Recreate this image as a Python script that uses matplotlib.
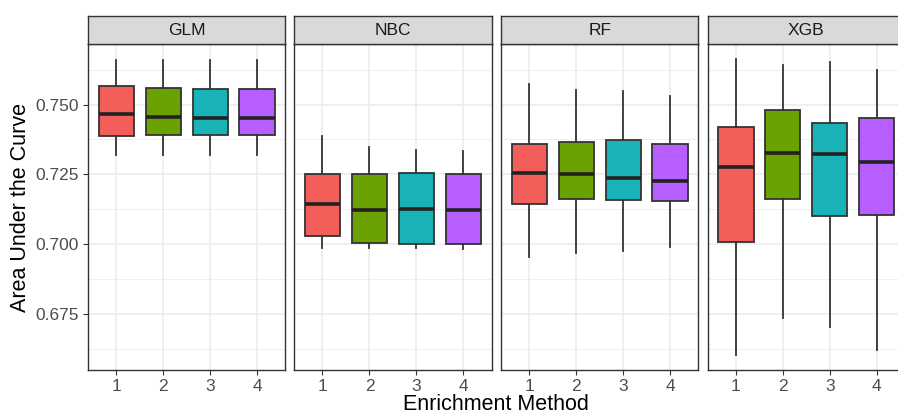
import matplotlib.pyplot as plt
import numpy as np

plt.rcParams['font.family'] = ['Liberation Sans', 'DejaVu Sans']

# data (AUC box stats per model and enrichment method)
models = ['GLM', 'NBC', 'RF', 'XGB']
methods = ['1', '2', '3', '4']
colors = ['#F35E5A', '#6BA100', '#19B2B7', '#B65EFF']

whislo = {'GLM': [0.7318, 0.7318, 0.7318, 0.7318],
          'NBC': [0.6987, 0.6987, 0.6985, 0.6981],
          'RF':  [0.6954, 0.6970, 0.6977, 0.6989],
          'XGB': [0.6602, 0.6737, 0.6703, 0.6620]}
q1 = {'GLM': [0.7388, 0.7390, 0.7391, 0.7391],
      'NBC': [0.7028, 0.7005, 0.6999, 0.7000],
      'RF':  [0.7143, 0.7160, 0.7159, 0.7153],
      'XGB': [0.7009, 0.7163, 0.7099, 0.7103]}
med = {'GLM': [0.7465, 0.7455, 0.7453, 0.7452],
       'NBC': [0.7142, 0.7124, 0.7127, 0.7124],
       'RF':  [0.7256, 0.7253, 0.7238, 0.7226],
       'XGB': [0.7276, 0.7325, 0.7324, 0.7294]}
q3 = {'GLM': [0.7567, 0.7558, 0.7557, 0.7557],
      'NBC': [0.7250, 0.7251, 0.7256, 0.7252],
      'RF':  [0.7358, 0.7366, 0.7372, 0.7360],
      'XGB': [0.7420, 0.7482, 0.7433, 0.7452]}
whishi = {'GLM': [0.7658, 0.7658, 0.7658, 0.7658],
          'NBC': [0.7389, 0.7347, 0.7337, 0.7335],
          'RF':  [0.7574, 0.7551, 0.7547, 0.7532],
          'XGB': [0.7662, 0.7641, 0.7651, 0.7624]}

W, H = 898, 416
fig = plt.figure(figsize=(W / 100, H / 100), dpi=100)

panel_x = [88, 294.3, 501, 707.7]
panel_w = 197.3
top, bot = 44.3, 370
strip_top = 15.7

ymin, ymax = 0.6549, 0.7716
edge = '#333333'

for k, m in enumerate(models):
    x0 = panel_x[k]
    ax = fig.add_axes([x0 / W, 1 - bot / H, panel_w / W, (bot - top) / H])
    stats = []
    for i in range(4):
        stats.append({'whislo': whislo[m][i], 'q1': q1[m][i], 'med': med[m][i],
                      'q3': q3[m][i], 'whishi': whishi[m][i], 'fliers': []})
    bp = ax.bxp(stats, positions=np.arange(1, 5), widths=0.75, patch_artist=True,
                showcaps=False,
                boxprops=dict(edgecolor=edge, linewidth=1.3),
                whiskerprops=dict(color=edge, linewidth=1.3),
                medianprops=dict(color='#222222', linewidth=2.6, solid_capstyle='butt'))
    for patch, c in zip(bp['boxes'], colors):
        patch.set_facecolor(c)
    ax.set_xlim(0.4, 4.6)
    ax.set_ylim(ymin, ymax)
    ax.set_xticks(np.arange(1, 5))
    ax.set_xticklabels(methods)
    ax.set_yticks([0.675, 0.700, 0.725, 0.750])
    ax.set_yticks([0.6625, 0.6875, 0.7125, 0.7375, 0.7625], minor=True)
    ax.grid(True, which='major', color='#EBEBEB', linewidth=1.1, zorder=0)
    ax.grid(True, which='minor', axis='y', color='#EBEBEB', linewidth=0.55, zorder=0)
    ax.set_axisbelow(True)
    ax.tick_params(axis='both', which='major', length=3.8, width=0.8, color='#333333',
                   labelsize=12.5, labelcolor='#4D4D4D', pad=3)
    ax.tick_params(axis='both', which='minor', length=0)
    if k > 0:
        ax.tick_params(axis='y', which='major', length=0, labelleft=False)
    else:
        ax.set_yticklabels(['0.675', '0.700', '0.725', '0.750'])
    for s in ax.spines.values():
        s.set_color('#333333')
        s.set_linewidth(1.0)

    # facet strip
    sax = fig.add_axes([x0 / W, 1 - top / H, panel_w / W, (top - strip_top) / H])
    sax.set_facecolor('#D9D9D9')
    sax.set_xticks([])
    sax.set_yticks([])
    for s in sax.spines.values():
        s.set_color('#333333')
        s.set_linewidth(1.0)
    sax.text(0.5, 0.47, m, ha='center', va='center', fontsize=12.5, color='#1A1A1A',
             transform=sax.transAxes)

fig.text(21 / W, 1 - 207 / H, 'Area Under the Curve', rotation=90, ha='center',
         va='center', fontsize=15.5, color='black')
fig.text(496 / W, 1 - 405 / H, 'Enrichment Method', ha='center', va='center',
         fontsize=15.5, color='black')

fig.savefig('out.png', dpi=100)
